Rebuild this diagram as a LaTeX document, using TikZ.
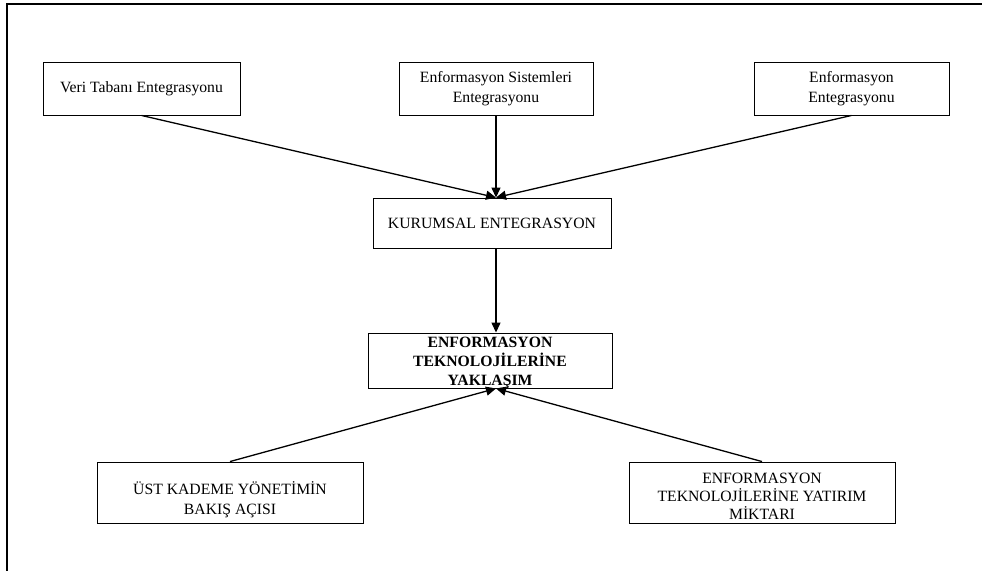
\documentclass[tikz,border=0pt]{standalone}
\usepackage{fontspec}
\setmainfont{Liberation Serif}
\usetikzlibrary{arrows.meta}
\begin{document}
\begin{tikzpicture}[x=1pt,y=-1pt,
  box/.style={draw=black,line width=0.9pt,rectangle,align=center,inner sep=1pt,
    font=\fontsize{15.7}{19.5}\selectfont},
  txt/.style={align=center,inner sep=0pt,font=\fontsize{15.7}{19.5}\selectfont},
  conn/.style={line width=1.3pt,-{Triangle[length=10pt,width=9pt]}},
  frameline/.style={line width=2pt}]
\useasboundingbox (0,0) rectangle (982,571);
\coordinate (ftr) at (982,4);
\coordinate (ftl) at (6.5,4);
\coordinate (fbl) at (6.5,571);
\draw[frameline] (ftr) -- (ftl) -- (fbl);
\coordinate (mid) at (496,0);
\node[box,minimum width=197pt,minimum height=53pt] (vt) at (141.5,88.5) {Veri Tabanı Entegrasyonu};
\node[box,minimum width=194pt,minimum height=53pt] (es) at (496,88.5) {Enformasyon Sistemleri\\Entegrasyonu};
\node[box,minimum width=195pt,minimum height=53pt] (ei) at (851.5,88.5) {Enformasyon\\Entegrasyonu};
\node[box,minimum width=238pt,minimum height=50pt] (ku) at (492,223) {KURUMSAL ENTEGRASYON};
\node[box,minimum width=244pt,minimum height=55pt] (ya) at (490,360.5) {};
\node[txt,font=\fontsize{15.7}{19}\selectfont\bfseries] (yat) at (490,363) {ENFORMASYON\\TEKNOLOJİLERİNE\\YAKLAŞIM};
\node[box,minimum width=266pt,minimum height=61pt] (us) at (230,492.5) {};
\node[txt,font=\fontsize{15.7}{20}\selectfont] (ust) at (230,500) {ÜST KADEME YÖNETİMİN\\BAKIŞ AÇISI};
\node[box,minimum width=266pt,minimum height=61pt] (ey) at (762,492.5) {};
\node[txt,font=\fontsize{15.7}{18}\selectfont] (eyt) at (762,496) {ENFORMASYON\\TEKNOLOJİLERİNE YATIRIM\\MİKTARI};
\draw[conn] (vt.south) -- (ku.north -| mid);
\draw[conn] (es.south) -- (ku.north -| mid);
\draw[conn] (ei.south) -- (ku.north -| mid);
\draw[conn] (ku.south -| mid) -- (ya.north -| mid);
\draw[conn] (us.north) -- (ya.south -| mid);
\draw[conn] (ey.north) -- (ya.south -| mid);
\end{tikzpicture}
\end{document}
